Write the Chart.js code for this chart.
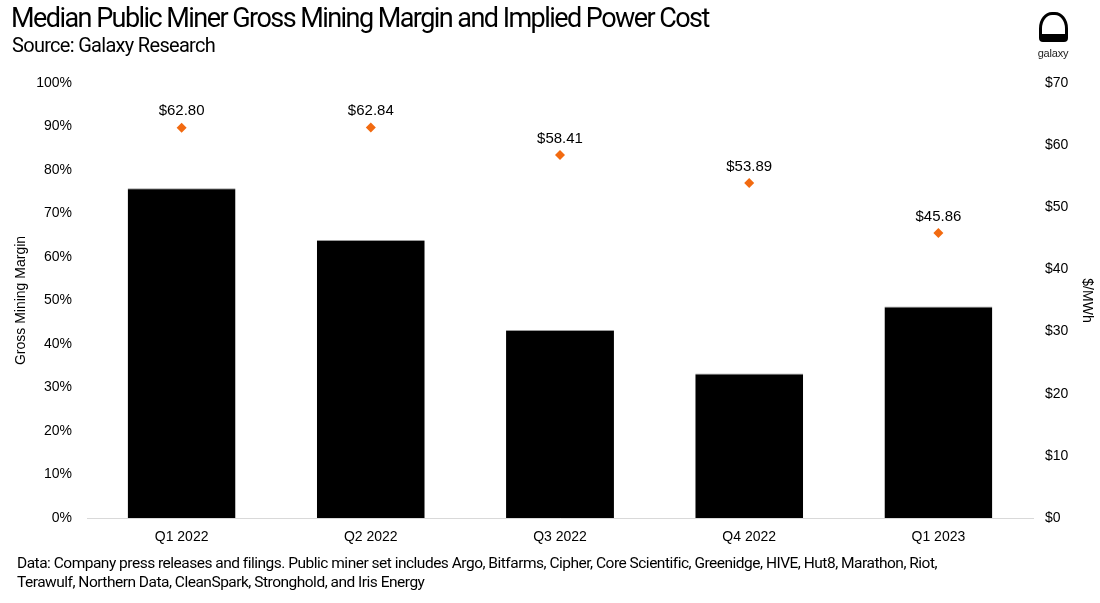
<!DOCTYPE html>
<html>
<head>
<meta charset="utf-8">
<script src="https://cdn.jsdelivr.net/npm/chart.js@4.4.1/dist/chart.umd.min.js"></script>
<style>
  html, body { margin:0; padding:0; background:#fff; }
  body { width:1100px; height:603px; position:relative; overflow:hidden; font-family: Roboto, "Liberation Sans", sans-serif; }
  #title { position:absolute; left:11px; top:2px; font-size:27px; color:#000; letter-spacing:-1.55px; white-space:nowrap; }
  #sub { position:absolute; left:12px; top:33px; font-size:20px; color:#000; letter-spacing:-0.7px; white-space:nowrap; }
  #foot { position:absolute; left:17px; top:554px; font-size:15.5px; line-height:19px; color:#000; letter-spacing:-0.5px; white-space:nowrap; }
  #wrap { position:absolute; left:0; top:0; width:1100px; height:603px; }
  #logo { position:absolute; left:1036px; top:12px; width:34px; height:60px; text-align:center; }
  #logo .mark { width:23px; height:19px; margin:0 auto; border:3.5px solid #000; border-bottom-width:8px; border-radius:45% 45% 4px 4px / 55% 55% 4px 4px; }
  #logo .txt { font-family:"Liberation Sans", sans-serif; font-size:11px; margin-top:5px; color:#222; margin-left:-6px; margin-right:-6px; letter-spacing:-0.2px; }
</style>
</head>
<body>
<div id="wrap"><canvas id="c"></canvas></div>
<div id="title">Median Public Miner Gross Mining Margin and Implied Power Cost</div>
<div id="sub">Source: Galaxy Research</div>
<div id="logo"><div class="mark"></div><div class="txt">galaxy</div></div>
<div id="foot">Data: Company press releases and filings. Public miner set includes Argo, Bitfarms, Cipher, Core Scientific, Greenidge, HIVE, Hut8, Marathon, Riot,<br>Terawulf, Northern Data, CleanSpark, Stronghold, and Iris Energy</div>
<script>
const categories = ["Q1 2022", "Q2 2022", "Q3 2022", "Q4 2022", "Q1 2023"];
const grossMargin = [75.8, 63.9, 43.2, 33.2, 48.6];
const powerCost = [62.80, 62.84, 58.41, 53.89, 45.86];
const leftTicks = [0,10,20,30,40,50,60,70,80,90,100];
const rightTicks = [0,10,20,30,40,50,60,70];

const pointLabels = {
  id: 'pointLabels',
  afterDatasetsDraw(chart) {
    const ctx = chart.ctx;
    const meta = chart.getDatasetMeta(1);
    ctx.save();
    ctx.font = '15px "Liberation Sans", Arial, sans-serif';
    ctx.fillStyle = '#000';
    ctx.textAlign = 'center';
    ctx.textBaseline = 'bottom';
    meta.data.forEach((pt, i) => {
      ctx.fillText('$' + powerCost[i].toFixed(2), pt.x, pt.y - 9);
    });
    ctx.restore();
  }
};

Chart.defaults.font.family = '"Liberation Sans", Arial, sans-serif';
Chart.defaults.color = '#000';

new Chart(document.getElementById('c'), {
  data: {
    labels: categories,
    datasets: [
      {
        type: 'bar',
        label: 'Gross Mining Margin',
        data: grossMargin,
        backgroundColor: '#000',
        borderColor: '#9a9a9a',
        borderWidth: {top: 1, left: 0, right: 0, bottom: 0},
        borderSkipped: 'bottom',
        barPercentage: 0.57,
        categoryPercentage: 1.0,
        yAxisID: 'y',
        order: 2
      },
      {
        type: 'scatter',
        label: '$/MWh',
        data: powerCost,
        backgroundColor: '#f26a10',
        borderColor: '#f26a10',
        pointStyle: 'rectRot',
        pointRadius: 5,
        pointBorderWidth: 0,
        showLine: false,
        yAxisID: 'y2',
        order: 1
      }
    ]
  },
  options: {
    responsive: true,
    maintainAspectRatio: false,
    animation: false,
    layout: { padding: { top: 83, bottom: 54, left: 8, right: 0 } },
    plugins: { legend: { display: false }, tooltip: { enabled: false } },
    scales: {
      x: {
        type: 'category',
        offset: true,
        afterFit: (s) => { s.height = 31; },
        grid: { display: false, drawTicks: false, tickLength: 0 },
        border: { display: true, color: '#d9d9d9' },
        ticks: { font: { size: 14 }, color: '#000', padding: 11 }
      },
      y: {
        position: 'left',
        min: 0, max: 100,
        afterBuildTicks: (s) => { s.ticks = leftTicks.map(v => ({value: v})); },
        afterFit: (s) => { s.width = 79; },
        grid: { display: false, drawTicks: false, tickLength: 0 },
        border: { display: false },
        ticks: { callback: v => v + '%', font: { size: 14 }, color: '#000', padding: 15 },
        title: { display: true, text: 'Gross Mining Margin', font: { size: 14 }, color: '#000', padding: 5 }
      },
      y2: {
        position: 'right',
        min: 0, max: 70,
        afterBuildTicks: (s) => { s.ticks = rightTicks.map(v => ({value: v})); },
        afterFit: (s) => { s.width = 67; },
        grid: { display: false, drawTicks: false, tickLength: 0 },
        border: { display: false },
        ticks: { callback: v => '$' + v, font: { size: 14 }, color: '#000', padding: 12 },
        title: { display: true, text: '$/MWh', font: { size: 14 }, color: '#000', padding: 5 }
      }
    }
  },
  plugins: [pointLabels]
});
</script>
</body>
</html>
